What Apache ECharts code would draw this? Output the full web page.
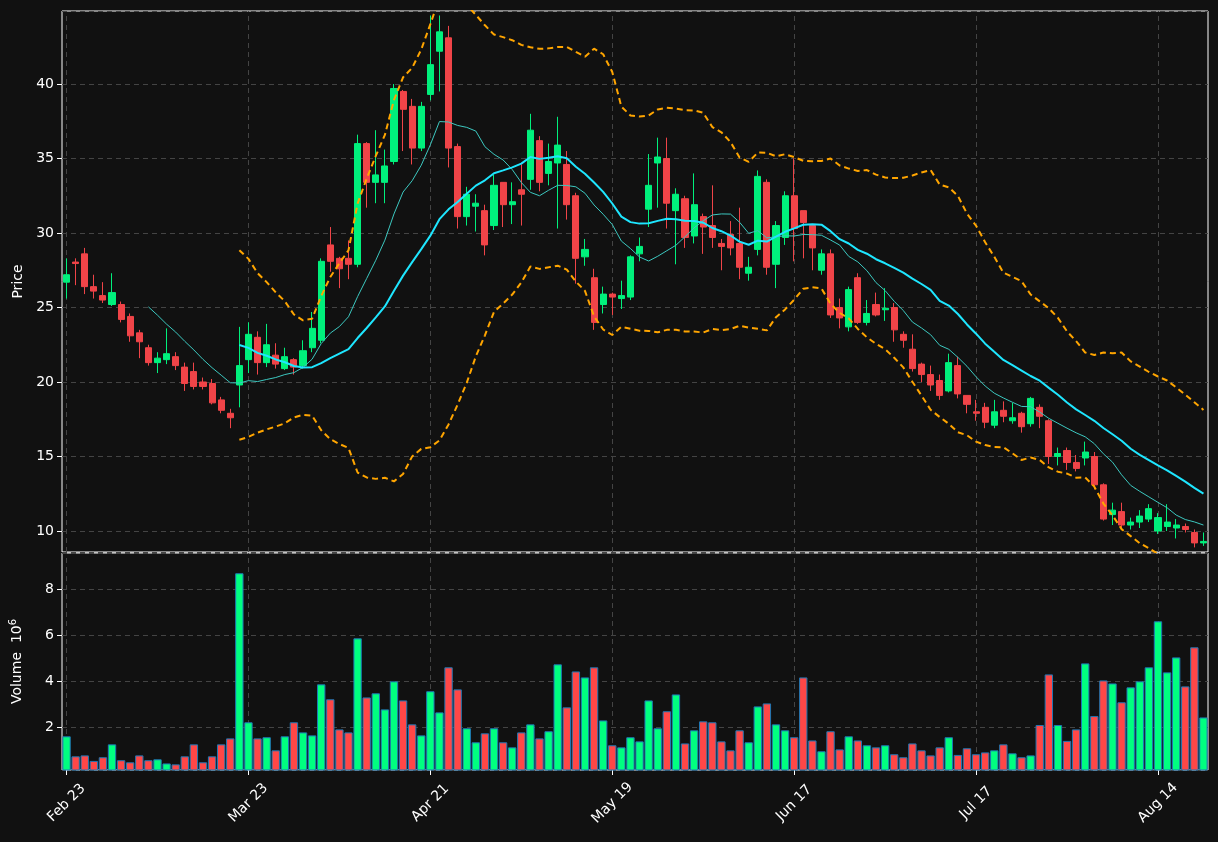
<!DOCTYPE html>
<html><head><meta charset="utf-8">
<script src="https://cdn.jsdelivr.net/npm/echarts@6/dist/echarts.min.js"></script>
<style>html,body{margin:0;padding:0;background:#111111;}#c{width:1218px;height:842px;}</style>
</head><body><div id="c"></div>
<script>
const tickLabels = ["Feb 23","Mar 23","Apr 21","May 19","Jun 17","Jul 17","Aug 14"];
const tickIndex = [0,20,40,60,80,100,120];
const opens = [26.7,28.05,28.6,26.4,25.8,25.2,25.2,24.4,23.3,22.3,21.3,21.5,21.7,21.0,20.7,20.0,19.9,18.8,17.9,19.8,
21.5,23.0,21.3,21.8,20.9,21.5,21.1,22.3,22.8,29.2,28.3,28.3,27.9,36.0,33.4,33.4,34.8,39.5,38.5,35.7,
39.3,42.2,43.1,35.8,31.1,31.8,31.5,30.5,33.4,31.9,32.9,33.6,36.2,34.0,34.7,34.6,32.5,28.4,27.0,25.2,
25.9,25.6,25.7,28.6,31.6,34.7,35.0,31.5,32.3,29.8,31.1,30.5,29.3,29.9,29.3,27.3,28.9,33.4,27.9,29.7,
32.5,31.5,30.5,27.5,28.6,25.0,23.7,27.0,24.0,25.2,24.85,25.0,23.2,22.2,21.2,20.5,20.1,19.4,21.1,19.1,
18.0,18.3,17.1,18.1,17.4,17.9,17.2,18.3,17.4,15.0,15.4,14.6,14.9,15.0,13.1,11.1,11.3,10.4,10.6,10.8,
10.0,10.3,10.2,10.3,9.9,9.2];
const closes = [27.2,27.95,26.4,26.1,25.5,26.0,24.2,23.1,22.7,21.3,21.6,21.9,21.1,19.9,19.7,19.7,18.6,18.1,17.6,21.1,
23.2,21.3,22.5,21.2,21.7,21.0,22.1,23.6,28.1,28.1,27.6,27.9,36.0,33.4,33.9,34.5,39.7,38.3,35.7,38.5,
41.3,43.5,35.7,31.1,32.6,32.0,29.2,33.2,31.9,32.1,32.6,36.9,33.4,34.8,35.9,31.9,28.3,28.9,24.0,25.9,
25.7,25.8,28.4,29.1,33.2,35.1,32.0,32.6,29.7,31.9,30.4,29.7,29.1,29.0,27.7,27.7,33.8,27.7,30.5,32.5,
30.3,30.7,29.0,28.6,24.5,24.3,26.2,24.0,24.6,24.5,24.95,23.5,22.8,20.9,20.5,19.8,19.1,21.3,19.2,18.5,
17.9,17.3,18.0,17.7,17.6,17.0,18.9,17.7,15.0,15.2,14.6,14.2,15.3,13.1,10.8,11.4,10.4,10.6,11.0,11.5,
10.9,10.6,10.4,10.1,9.2,9.3];
const lows = [25.6,26.5,25.9,25.6,25.3,25.1,24.0,22.7,21.6,21.1,20.6,21.2,20.8,19.4,19.5,19.5,18.5,17.9,16.9,18.3,
20.6,20.5,21.0,20.9,20.8,20.5,20.9,22.0,22.6,27.4,26.3,26.9,27.7,31.7,32.0,32.0,34.6,35.5,34.6,35.5,
38.9,39.5,34.4,30.3,30.5,30.1,28.5,30.2,30.4,30.6,30.5,32.9,32.8,33.2,30.3,30.9,26.6,27.8,23.5,24.6,
24.5,24.9,25.5,28.1,30.4,31.7,30.3,27.9,29.0,29.3,28.6,29.0,27.5,28.5,26.9,26.8,28.5,27.2,26.3,29.2,
28.1,28.3,27.5,27.2,24.3,23.6,23.4,23.9,23.8,24.4,24.1,22.7,22.3,20.7,20.0,19.4,18.8,19.3,18.9,17.9,
17.4,16.9,16.9,17.3,17.2,16.6,17.0,16.9,14.5,14.4,14.1,14.0,14.4,12.8,10.7,10.4,10.2,10.1,10.2,10.6,
9.8,10.0,9.5,9.9,8.9,9.0];
const highs = [28.3,28.3,29.0,27.2,26.7,27.3,25.4,24.6,23.5,22.5,22.0,23.6,22.0,21.3,21.3,20.3,20.2,19.0,18.2,23.7,
24.0,23.4,23.9,22.6,22.3,21.6,22.8,24.7,28.3,30.4,28.4,29.5,36.6,36.1,36.9,35.6,40.0,39.6,39.0,38.8,
44.6,44.6,43.9,36.0,33.1,32.6,31.9,33.9,33.4,33.4,34.6,38.0,36.5,36.0,37.8,35.5,32.7,29.6,27.6,26.4,
26.0,26.8,28.5,29.7,35.3,36.4,36.4,33.0,32.5,34.0,31.3,33.2,29.6,30.8,31.7,28.4,34.2,33.6,30.8,32.8,
35.0,31.5,30.5,28.9,28.9,25.6,26.4,27.3,25.5,26.0,26.3,25.3,23.4,23.2,21.3,21.1,20.5,21.9,21.7,19.1,
18.8,18.6,18.8,18.7,18.6,18.0,19.0,18.5,17.5,15.6,15.6,15.1,16.0,15.3,13.2,11.9,11.9,10.9,11.4,11.8,
11.2,11.8,10.8,10.5,10.1,9.9];
const volumes = [1.61,0.74,0.78,0.54,0.70,1.26,0.57,0.48,0.78,0.57,0.61,0.43,0.39,0.74,1.26,0.48,0.74,1.26,1.52,8.70,
2.22,1.52,1.57,1.00,1.61,2.22,1.78,1.65,3.87,3.22,1.91,1.78,5.87,3.30,3.48,2.78,4.00,3.17,2.13,1.65,
3.57,2.65,4.61,3.65,1.96,1.35,1.74,1.96,1.35,1.13,1.78,2.13,1.52,1.83,4.74,2.87,4.43,4.17,4.61,2.30,
1.22,1.13,1.57,1.39,3.17,1.96,2.70,3.43,1.30,1.87,2.26,2.22,1.39,1.00,1.87,1.35,2.91,3.04,2.13,1.87,
1.57,4.17,1.43,0.96,1.83,1.04,1.61,1.43,1.22,1.13,1.22,0.83,0.70,1.30,1.00,0.78,1.13,1.57,0.80,1.09,
0.83,0.91,1.00,1.26,0.87,0.70,0.78,2.10,4.30,2.10,1.41,1.91,4.78,2.49,4.04,3.91,3.09,3.74,4.00,4.61,
6.61,4.39,5.04,3.78,5.48,2.43];

const UP='#00f07c', DOWN='#f04448', VUP='#00ff80', VDOWN='#ff4747';
const cats = closes.map((_, i) => i);
function ma(p){return closes.map((_,i)=>{if(i<p-1)return '-';let s=0;for(let k=i-p+1;k<=i;k++)s+=closes[k];return +(s/p).toFixed(3);});}
function bb(p,m){return closes.map((_,i)=>{if(i<p-1)return '-';let s=0;for(let k=i-p+1;k<=i;k++)s+=closes[k];const mu=s/p;let v=0;for(let k=i-p+1;k<=i;k++)v+=(closes[k]-mu)**2;const sd=Math.sqrt(v/(p-1));return +(mu+m*sd).toFixed(3);});}
const ma10=ma(10), ma20=ma(20), up=bb(20,2), lo=bb(20,-2);
const candle = cats.map(i=>[opens[i],closes[i],lows[i],highs[i]]);
const vol = cats.map(i=>({value:volumes[i], itemStyle:{color: closes[i]>=opens[i]?VUP:VDOWN}}));
const vlines = tickIndex.map(i=>({xAxis:i}));
const ml = {silent:true,z:0,zlevel:0,symbol:'none',label:{show:false},lineStyle:{color:'#444',type:[5,4],width:1},data:vlines,animation:false};
const blank = cats.map(()=>'-');

const chart = echarts.init(document.getElementById('c'));
const gridL=62, gridR=10;
const xBase = {type:'category',data:cats,boundaryGap:true,axisLine:{show:false},splitLine:{show:false}};
const isTick = (i)=>tickIndex.indexOf(i)>=0;
chart.setOption({
  backgroundColor:'#111111',
  animation:false,
  textStyle:{fontFamily:'DejaVu Sans'},
  grid:[
    {left:gridL,right:gridR,top:11,height:541,show:true,borderColor:'#ffffff',borderWidth:1,backgroundColor:'transparent'},
    {left:gridL,right:gridR,top:553,height:217,show:true,borderColor:'#ffffff',borderWidth:1,backgroundColor:'transparent'}
  ],
  xAxis:[
    Object.assign({gridIndex:0,axisTick:{show:false},axisLabel:{show:false}},xBase),
    Object.assign({gridIndex:1,axisTick:{show:true,alignWithLabel:true,interval:isTick,length:5,lineStyle:{color:'#fff'}},
      axisLabel:{interval:isTick,rotate:45,color:'#ffffff',fontSize:14,margin:33,align:'center',verticalAlign:'middle',
        formatter:(v)=>{const k=tickIndex.indexOf(+v);return k>=0?tickLabels[k]:'';}}},xBase)
  ],
  yAxis:[
    {gridIndex:0,type:'value',min:8.59,max:44.9,splitNumber:7,name:'Price',nameLocation:'middle',nameGap:36,nameRotate:90,
     nameTextStyle:{color:'#fff',fontSize:14},
     axisLine:{show:false},axisTick:{show:true,length:5,lineStyle:{color:'#fff'}},
     axisLabel:{color:'#fff',fontSize:14,showMinLabel:false,showMaxLabel:false},
     splitLine:{show:true,lineStyle:{color:'#444',type:[5,4]}}},
    {gridIndex:1,type:'value',min:0.145,max:9.58,splitNumber:5,name:'Volume  10{s|6}',nameLocation:'middle',nameGap:36,nameRotate:90,
     nameTextStyle:{color:'#fff',fontSize:14,rich:{s:{fontSize:10,verticalAlign:'top',color:'#fff',padding:[0,0,8,0]}}},
     axisLine:{show:false},axisTick:{show:true,length:5,lineStyle:{color:'#fff'}},
     axisLabel:{color:'#fff',fontSize:14,showMinLabel:false,showMaxLabel:false},
     splitLine:{show:true,lineStyle:{color:'#444',type:[5,4]}}}
  ],
  series:[
    {type:'line',xAxisIndex:0,yAxisIndex:0,data:blank,z:0,silent:true,markLine:ml},
    {type:'line',xAxisIndex:1,yAxisIndex:1,data:blank,z:0,silent:true,markLine:ml},
    {type:'candlestick',xAxisIndex:0,yAxisIndex:0,data:candle,barWidth:'72%',z:6,
     itemStyle:{color:UP,color0:DOWN,borderColor:UP,borderColor0:DOWN,borderWidth:1}},
    {type:'line',xAxisIndex:0,yAxisIndex:0,data:ma10,showSymbol:false,lineStyle:{color:'#3cc8c0',width:1},z:7},
    {type:'line',xAxisIndex:0,yAxisIndex:0,data:ma20,showSymbol:false,lineStyle:{color:'#1ee6ff',width:2},z:7},
    {type:'line',xAxisIndex:0,yAxisIndex:0,data:up,showSymbol:false,lineStyle:{color:'#ffa500',width:2,type:[6,4]},z:7},
    {type:'line',xAxisIndex:0,yAxisIndex:0,data:lo,showSymbol:false,lineStyle:{color:'#ffa500',width:2,type:[6,4]},z:7},
    {type:'bar',xAxisIndex:1,yAxisIndex:1,data:vol,barWidth:'92%',z:6,itemStyle:{borderColor:'#1f77b4',borderWidth:1}}
  ]
});
</script></body></html>
